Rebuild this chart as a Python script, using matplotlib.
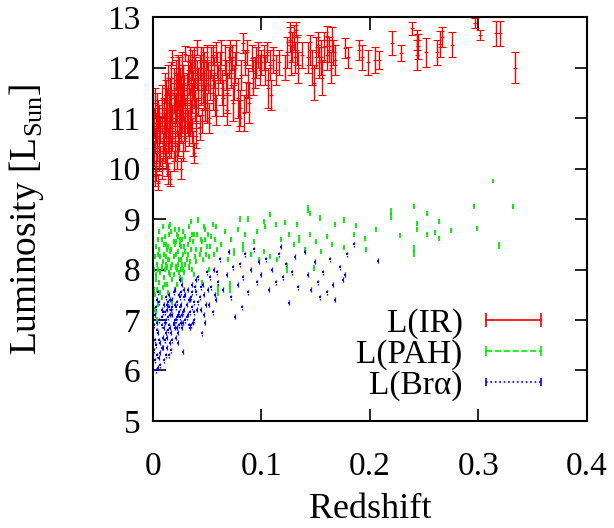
import matplotlib
matplotlib.use("Agg")
import matplotlib.pyplot as plt
from matplotlib.lines import Line2D
from matplotlib.legend_handler import HandlerLine2D

plt.rcParams["font.family"] = ["Liberation Serif", "DejaVu Serif"]
plt.rcParams["mathtext.fontset"] = "custom"
plt.rcParams["mathtext.rm"] = "Liberation Serif"

# L(IR): redshift, luminosity, error
ir_z = [0.002, 0.003, 0.004, 0.005, 0.006, 0.003, 0.007, 0.008, 0.009, 0.002, 0.010, 0.006, 0.008, 0.004,
        0.011, 0.012, 0.013, 0.014, 0.015, 0.016, 0.017, 0.018, 0.019, 0.012, 0.014, 0.016, 0.018, 0.020, 0.013, 0.017, 0.019,
        0.021, 0.022, 0.023, 0.024, 0.025, 0.026, 0.027, 0.028, 0.029, 0.022, 0.024, 0.026, 0.028, 0.030, 0.030, 0.025,
        0.031, 0.032, 0.033, 0.034, 0.035, 0.036, 0.037, 0.038, 0.039, 0.040, 0.041, 0.042, 0.043, 0.044, 0.034, 0.036, 0.038,
        0.046, 0.047, 0.048, 0.050, 0.051, 0.052, 0.054, 0.055, 0.056, 0.058, 0.058, 0.060,
        0.062, 0.064, 0.066, 0.068, 0.068, 0.071, 0.072, 0.074, 0.076, 0.078, 0.079, 0.080, 0.083, 0.085, 0.086, 0.088,
        0.091, 0.092, 0.094, 0.097,
        0.100, 0.102, 0.103, 0.105, 0.106, 0.108, 0.109, 0.111, 0.113, 0.116,
        0.122, 0.124, 0.126, 0.127, 0.128, 0.130, 0.131, 0.133, 0.134, 0.137, 0.126, 0.132,
        0.143, 0.145, 0.147, 0.148, 0.150, 0.152, 0.153, 0.155, 0.156, 0.158, 0.160, 0.162, 0.164, 0.166, 0.168, 0.160, 0.165,
        0.177, 0.180, 0.190, 0.193, 0.198, 0.205, 0.208,
        0.220, 0.229, 0.239, 0.243, 0.244, 0.243, 0.252, 0.262, 0.265, 0.266, 0.276, 0.297, 0.301, 0.316, 0.320, 0.334,
        0.001, 0.001, 0.002, 0.003, 0.004, 0.005, 0.006, 0.007, 0.008, 0.009, 0.010, 0.011, 0.011, 0.012, 0.013,
        0.014, 0.015, 0.015, 0.016, 0.017, 0.018, 0.019, 0.020, 0.020, 0.021, 0.022, 0.023, 0.023, 0.024, 0.025,
        0.026, 0.027, 0.027, 0.028, 0.029, 0.030, 0.031, 0.032, 0.033, 0.034, 0.035, 0.036, 0.037, 0.038, 0.039,
        0.040, 0.041, 0.042, 0.043, 0.044, 0.045, 0.046, 0.047, 0.049, 0.050, 0.053, 0.055, 0.057, 0.059, 0.018,
        0.022, 0.026, 0.031, 0.016, 0.012,
        0.063, 0.065, 0.067, 0.070, 0.073, 0.075, 0.077, 0.081, 0.084, 0.087, 0.089, 0.095, 0.099]
ir_L = [9.85, 10.1, 10.4, 9.72, 10.6, 10.8, 10.25, 10.95, 10.5, 10.55, 11.1, 11.0, 10.0, 11.2,
        10.3, 10.7, 11.3, 9.9, 10.9, 11.5, 10.4, 11.0, 11.7, 11.45, 10.55, 9.8, 12.2, 10.7, 10.05, 11.25, 10.15,
        11.2, 11.6, 10.5, 11.9, 10.95, 10.0, 11.4, 11.75, 10.8, 10.25, 11.05, 11.55, 10.35, 12.27, 11.1, 11.3,
        11.6, 11.95, 10.7, 11.3, 11.8, 12.05, 10.5, 11.5, 11.9, 11.1, 12.4, 11.7, 10.82, 12.1, 10.95, 11.4, 10.3,
        11.6, 12.0, 11.3, 12.2, 11.8, 11.0, 12.1, 11.5, 11.9, 12.3, 11.16, 11.75,
        12.0, 11.6, 12.15, 11.16, 11.5, 12.35, 11.9, 11.3, 12.0, 11.4, 11.05, 11.2, 12.48, 12.1, 11.42, 11.7,
        12.19, 11.8, 11.9, 12.25,
        12.1, 12.2, 11.95, 12.3, 11.6, 12.05, 11.45, 12.15, 11.95, 12.1,
        12.0, 12.3, 12.55, 12.15, 12.4, 12.6, 12.2, 12.35, 12.0, 12.25, 12.7, 12.75,
        12.2, 12.35, 12.0, 11.7, 12.3, 12.45, 12.1, 12.2, 11.8, 12.4, 12.25, 12.35, 12.0, 12.3, 12.15, 12.62, 12.55,
        12.38, 12.2, 12.35, 12.2, 12.1, 12.15, 12.15,
        12.49, 12.29, 12.78, 12.55, 12.42, 12.25, 12.3, 12.3, 12.47, 12.6, 12.45, 12.88, 12.64, 12.68, 12.68, 12.0,
        10.3, 10.9, 11.3, 9.95, 10.65, 11.05, 10.15, 10.75, 11.35, 10.35, 10.6, 11.6, 10.85, 10.2, 11.05,
        11.75, 10.45, 11.2, 10.75, 11.8, 10.6, 11.4, 11.15, 10.35, 11.85, 10.9, 11.45, 12.0, 10.6, 11.7,
        10.75, 11.0, 12.05, 11.25, 11.55, 10.6, 11.35, 10.9, 11.75, 12.15, 11.05, 10.75, 11.65, 12.2, 11.25,
        10.65, 11.85, 11.35, 12.0, 11.55, 10.95, 12.15, 11.45, 11.85, 11.2, 11.65, 12.25, 11.4, 12.05, 10.9,
        11.3, 11.15, 10.95, 11.1, 10.95,
        12.3, 11.4, 11.85, 12.1, 12.2, 11.7, 12.3, 11.85, 11.1, 12.3, 11.3, 12.1, 11.95]
ir_err = [0.2, 0.2, 0.25, 0.15, 0.25, 0.3, 0.2, 0.25, 0.2, 0.25, 0.3, 0.25, 0.2, 0.3,
          0.2, 0.25, 0.3, 0.2, 0.25, 0.3, 0.2, 0.25, 0.3, 0.3, 0.25, 0.15, 0.15, 0.25, 0.2, 0.3, 0.2,
          0.3, 0.3, 0.25, 0.3, 0.3, 0.2, 0.3, 0.3, 0.25, 0.25, 0.3, 0.3, 0.2, 0.15, 0.3, 0.3,
          0.3, 0.3, 0.25, 0.3, 0.3, 0.3, 0.25, 0.3, 0.3, 0.3, 0.15, 0.3, 0.25, 0.3, 0.3, 0.3, 0.2,
          0.3, 0.3, 0.35, 0.25, 0.3, 0.3, 0.3, 0.35, 0.3, 0.2, 0.3, 0.3,
          0.3, 0.35, 0.3, 0.3, 0.4, 0.2, 0.3, 0.35, 0.3, 0.4, 0.3, 0.35, 0.2, 0.25, 0.3, 0.3,
          0.25, 0.35, 0.3, 0.25,
          0.25, 0.25, 0.3, 0.2, 0.4, 0.3, 0.3, 0.25, 0.3, 0.25,
          0.25, 0.3, 0.25, 0.3, 0.3, 0.25, 0.3, 0.3, 0.3, 0.25, 0.2, 0.15,
          0.3, 0.3, 0.35, 0.35, 0.3, 0.25, 0.3, 0.35, 0.35, 0.3, 0.3, 0.25, 0.3, 0.25, 0.3, 0.2, 0.25,
          0.2, 0.2, 0.2, 0.25, 0.25, 0.25, 0.17,
          0.24, 0.16, 0.13, 0.2, 0.25, 0.3, 0.28, 0.25, 0.26, 0.2, 0.25, 0.1, 0.1, 0.25, 0.25, 0.31,
          0.25, 0.3, 0.3, 0.2, 0.25, 0.3, 0.2, 0.25, 0.3, 0.2, 0.25, 0.3, 0.25, 0.2, 0.3,
          0.3, 0.25, 0.3, 0.25, 0.3, 0.25, 0.3, 0.3, 0.2, 0.3, 0.25, 0.3, 0.25, 0.25, 0.3,
          0.25, 0.3, 0.25, 0.3, 0.3, 0.25, 0.3, 0.25, 0.3, 0.25, 0.3, 0.25, 0.3, 0.2, 0.3,
          0.25, 0.3, 0.3, 0.25, 0.3, 0.25, 0.25, 0.3, 0.3, 0.3, 0.3, 0.2, 0.35, 0.25, 0.3,
          0.3, 0.3, 0.25, 0.3, 0.25,
          0.25, 0.35, 0.3, 0.3, 0.25, 0.35, 0.25, 0.3, 0.35, 0.25, 0.4, 0.3, 0.3]

# L(PAH)
pah_z = [0.002, 0.003, 0.004, 0.005, 0.006, 0.007, 0.008, 0.009, 0.002, 0.004, 0.010, 0.006, 0.003,
         0.011, 0.012, 0.013, 0.014, 0.015, 0.016, 0.017, 0.018, 0.019, 0.020, 0.021, 0.022, 0.023, 0.024, 0.025,
         0.026, 0.027, 0.028, 0.029, 0.030, 0.015, 0.020, 0.025,
         0.032, 0.034, 0.036, 0.038, 0.040, 0.042, 0.044, 0.046, 0.048, 0.050, 0.052, 0.054, 0.056, 0.058, 0.060,
         0.035, 0.045,
         0.063, 0.066, 0.069, 0.071, 0.072, 0.075, 0.078, 0.080, 0.083, 0.085, 0.088, 0.090, 0.093, 0.096, 0.098,
         0.102, 0.103, 0.108, 0.113, 0.122, 0.133, 0.143, 0.145, 0.154, 0.168, 0.176, 0.187, 0.195, 0.196, 0.176,
         0.125, 0.130, 0.135, 0.140, 0.145, 0.150, 0.155, 0.160, 0.165, 0.102, 0.108, 0.114, 0.124, 0.148, 0.118, 0.185,
         0.206, 0.219, 0.241, 0.253, 0.296, 0.332, 0.313, 0.228, 0.243, 0.243, 0.253, 0.260, 0.264, 0.264, 0.275,
         0.299, 0.241, 0.319,
         0.001, 0.001, 0.002, 0.003, 0.004, 0.005, 0.006, 0.007, 0.008, 0.009, 0.010, 0.011, 0.012, 0.013,
         0.014, 0.015, 0.016, 0.017, 0.018, 0.019, 0.020, 0.021, 0.022, 0.023, 0.024, 0.025, 0.026, 0.027,
         0.028, 0.029, 0.030, 0.031, 0.033, 0.035, 0.037, 0.039, 0.041, 0.043, 0.045, 0.047, 0.049, 0.051,
         0.053, 0.055, 0.057, 0.059, 0.014, 0.018, 0.022, 0.027, 0.033, 0.016, 0.009, 0.005,
         0.003, 0.005, 0.007, 0.008, 0.010, 0.011, 0.012, 0.013, 0.015, 0.017, 0.019, 0.021, 0.023,
         0.024, 0.026, 0.028, 0.030, 0.032, 0.034, 0.036, 0.038, 0.040, 0.044, 0.048, 0.052]
pah_L = [7.5, 7.8, 8.1, 7.3, 8.4, 7.95, 8.6, 7.65, 8.25, 7.0, 8.3, 8.75, 7.15,
         8.0, 8.5, 7.7, 8.2, 8.7, 7.9, 8.4, 8.1, 8.55, 7.6, 8.3, 8.0, 8.65, 8.2, 7.85,
         8.45, 8.1, 8.75, 7.95, 8.35, 8.85, 8.8, 8.6,
         8.5, 8.15, 8.7, 7.9, 8.4, 8.98, 8.6, 8.2, 8.8, 8.45, 8.0, 8.65, 8.3, 8.85, 7.6,
         8.95, 7.75,
         8.5, 8.75, 8.2, 7.65, 8.6, 8.35, 8.8, 9.0, 8.45, 8.7, 9.0, 8.3, 8.55, 8.75, 8.2,
         8.95, 8.85, 9.08, 8.9, 8.93, 8.9, 9.2, 9.1, 9.02, 8.9, 8.98, 8.88, 8.62, 8.4, 8.43,
         8.7, 8.5, 8.6, 8.4, 8.7, 8.55, 8.35, 8.65, 8.5, 8.35, 8.25, 8.2, 8.03, 8.03, 8.6, 8.7,
         8.8, 9.1, 9.24, 9.1, 9.25, 9.24, 9.75, 8.68, 8.92, 8.8, 8.7, 8.74, 8.96, 8.62, 8.78,
         8.82, 8.37, 8.47,
         7.6, 8.0, 7.2, 8.45, 7.6, 8.0, 7.75, 8.25, 7.45, 8.15, 7.85, 8.65, 8.25, 8.05,
         8.45, 7.95, 8.35, 8.75, 7.8, 8.25, 8.5, 8.05, 8.7, 8.35, 7.95, 8.5, 8.2, 8.6,
         8.0, 8.45, 8.65, 8.2, 8.85, 8.4, 8.55, 8.25, 8.7, 8.3, 8.55, 8.85, 8.3, 8.7,
         8.45, 8.9, 8.6, 8.4, 7.55, 7.35, 7.7, 7.8, 8.05, 8.9, 8.85, 8.6,
         7.9, 8.3, 7.55, 8.05, 8.5, 7.7, 8.1, 8.4, 8.2, 8.05, 7.9, 8.55, 8.1,
         8.8, 8.0, 8.3, 8.1, 8.3, 8.6, 8.0, 8.7, 8.15, 8.4, 8.6, 8.25]
pah_err = [0.05] * 13 + [0.05] * 23 + [0.05] * 14 + [0.12] + [0.05] * 2 + \
          [0.05, 0.05, 0.05, 0.12, 0.05, 0.08, 0.05, 0.05, 0.1, 0.05, 0.05, 0.05, 0.05, 0.05, 0.05] + \
          [0.05] * 6 + [0.08] + [0.05] * 8 + \
          [0.05, 0.05, 0.08, 0.05, 0.05, 0.05, 0.05, 0.05, 0.05, 0.05, 0.05, 0.05, 0.1, 0.05, 0.05, 0.05] + \
          [0.05, 0.12, 0.05, 0.05, 0.05, 0.05, 0.04, 0.05, 0.05, 0.05, 0.05, 0.05, 0.05, 0.05, 0.05,
           0.05, 0.12, 0.07] + \
          [0.05] * 54 + [0.05] * 25

# L(Br alpha)
bra_z = [0.002, 0.003, 0.004, 0.005, 0.006, 0.007, 0.008, 0.009, 0.002, 0.004, 0.006, 0.008, 0.010, 0.003, 0.005,
         0.011, 0.012, 0.013, 0.014, 0.015, 0.016, 0.017, 0.018, 0.019, 0.020, 0.021, 0.022, 0.023, 0.024, 0.025,
         0.026, 0.027, 0.028, 0.029, 0.030, 0.012, 0.016, 0.020, 0.025,
         0.032, 0.034, 0.036, 0.038, 0.040, 0.042, 0.044, 0.045, 0.047, 0.050, 0.052, 0.054, 0.056, 0.058, 0.060,
         0.035, 0.048,
         0.062, 0.065, 0.068, 0.070, 0.072, 0.074, 0.076, 0.078, 0.080, 0.083, 0.085, 0.088, 0.090, 0.093, 0.096,
         0.098, 0.082,
         0.100, 0.104, 0.107, 0.110, 0.113, 0.116, 0.120, 0.123, 0.125, 0.128, 0.131, 0.134, 0.143, 0.146, 0.149,
         0.152, 0.154, 0.157, 0.160, 0.163, 0.166, 0.168, 0.172, 0.175, 0.177, 0.179, 0.185, 0.207, 0.140, 0.118,
         0.001, 0.001, 0.002, 0.003, 0.004, 0.005, 0.006, 0.007, 0.008, 0.009, 0.010, 0.011, 0.012, 0.013,
         0.014, 0.015, 0.015, 0.016, 0.017, 0.018, 0.019, 0.020, 0.021, 0.022, 0.023, 0.024, 0.025, 0.026,
         0.027, 0.028, 0.029, 0.030, 0.031, 0.032, 0.033, 0.034, 0.035, 0.036, 0.037, 0.038, 0.039, 0.041,
         0.043, 0.046, 0.049, 0.051, 0.053, 0.055, 0.057, 0.059, 0.013, 0.018, 0.023, 0.007, 0.010, 0.015,
         0.004, 0.006, 0.008, 0.009, 0.011, 0.012, 0.013, 0.014, 0.016, 0.017, 0.018, 0.019, 0.020, 0.021,
         0.022, 0.024, 0.025, 0.026, 0.027, 0.028, 0.029, 0.031, 0.033, 0.034, 0.036, 0.038, 0.040, 0.042,
         0.044, 0.047]
bra_L = [6.2, 6.5, 6.8, 6.05, 7.0, 6.35, 7.2, 6.65, 7.1, 7.4, 6.25, 6.9, 7.3, 6.0, 7.55,
         6.6, 7.0, 7.3, 6.8, 7.5, 7.1, 6.4, 7.25, 6.9, 7.6, 7.0, 7.35, 6.75, 7.15, 7.45,
         6.95, 7.7, 6.37, 7.2, 7.5, 6.3, 6.55, 6.85, 7.8,
         7.1, 7.4, 7.7, 7.0, 7.55, 7.85, 7.2, 6.74, 7.5, 7.95, 7.3, 7.65, 8.0, 7.4, 7.75,
         6.9, 6.95,
         8.2, 7.6, 7.9, 8.35, 7.45, 8.05, 7.06, 7.7, 8.1, 7.85, 8.3, 7.55, 8.0, 8.4, 7.75,
         8.15, 7.25,
         7.9, 8.2, 7.6, 8.0, 7.75, 8.3, 7.85, 8.1, 7.34, 7.95, 8.25, 7.65, 7.9, 7.6, 8.15,
         7.75, 7.45, 7.95, 7.55, 8.2, 7.7, 7.4, 8.05, 7.8, 7.9, 8.3, 8.5, 8.17, 8.35, 8.45,
         6.4, 6.9, 6.6, 7.25, 6.3, 6.75, 7.35, 6.55, 7.05, 6.45, 6.85, 7.15, 7.45, 6.65,
         7.05, 7.25, 6.9, 7.4, 6.75, 7.1, 7.55, 7.0, 7.25, 6.85, 7.1, 7.5, 7.05, 7.3,
         6.85, 7.15, 7.45, 7.0, 7.3, 7.6, 6.9, 7.15, 7.45, 7.25, 6.95, 7.35, 7.65, 7.2,
         7.45, 7.7, 7.3, 7.6, 7.85, 7.15, 7.5, 7.95, 6.45, 6.6, 6.55, 6.1, 6.2, 6.3,
         6.95, 6.6, 6.45, 7.15, 6.95, 6.75, 7.2, 7.35, 6.85, 7.2, 7.4, 6.95, 7.3, 6.65,
         7.05, 6.9, 7.25, 7.55, 7.1, 6.95, 7.6, 7.05, 7.4, 6.85, 7.55, 7.15, 7.8, 7.35,
         7.65, 7.1]
bra_err = [0.05] * len(bra_z)

fig = plt.figure(figsize=(6.14, 5.28), dpi=100)
ax = fig.add_axes([0.249, 0.2027, 0.707, 0.765])

red = ax.errorbar(ir_z, ir_L, yerr=ir_err, fmt="+", color="#ff0000", ms=3, mew=0.8,
                  elinewidth=1.0, capsize=3.2, capthick=1.0)
grn = ax.errorbar(pah_z, pah_L, yerr=pah_err, fmt="s", color="#00ee00", ms=1.5, mew=0,
                  elinewidth=1.3, capsize=3.0, capthick=1.5)
blu = ax.errorbar(bra_z, bra_L, yerr=bra_err, fmt="s", color="#0000ff", ms=1.8, mew=0,
                  elinewidth=1.0, capsize=2.4, capthick=1.3)
blu[2][0].set_linestyle(":")

ax.set_xlim(0, 0.4)
ax.set_ylim(5, 13)
ax.set_xticks([0, 0.1, 0.2, 0.3, 0.4])
ax.set_xticklabels(["0", "0.1", "0.2", "0.3", "0.4"])
ax.set_yticks(range(5, 14))
ax.tick_params(direction="in", length=9, width=1.2, labelsize=24, top=True, right=True)
ax.tick_params(axis="x", pad=22)
ax.tick_params(axis="y", pad=9)
for s in ax.spines.values():
    s.set_linewidth(1.5)

ax.set_xlabel("Redshift", fontsize=26, labelpad=8)
ax.set_ylabel(r"Luminosity [L$_{\rm Sun}$]", fontsize=27, labelpad=44)

handles = [
    Line2D([], [], color="#ff0000", lw=1.2, marker="|", ms=10, mew=1.2),
    Line2D([], [], color="#00ee00", lw=1.2, ls="--", marker="|", ms=7, mew=1.2),
    Line2D([], [], color="#0000ff", lw=1.2, ls=":", marker="|", ms=6, mew=1.2),
]
ax.legend(handles, ["L(IR)", "L(PAH)", "L(Brα)"], loc="lower right", frameon=False,
          fontsize=24, markerfirst=False, numpoints=2, handlelength=1.65,
          handletextpad=0.7, labelspacing=0.0, borderpad=0, borderaxespad=0,
          bbox_to_anchor=(0.894, 0.05),
          handler_map={Line2D: HandlerLine2D(marker_pad=0)})

fig.savefig("out.png", dpi=100)
